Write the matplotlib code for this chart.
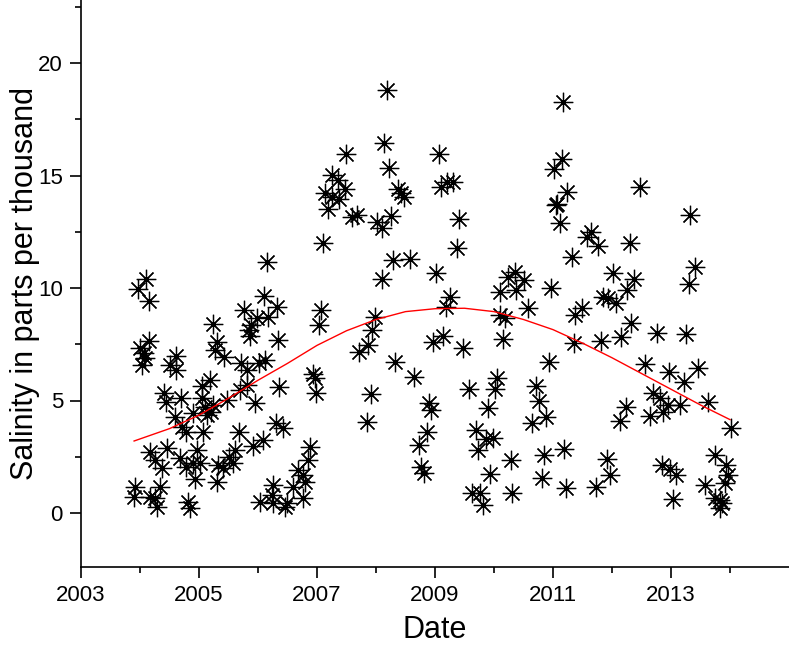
import matplotlib
matplotlib.use("Agg")
import matplotlib.pyplot as plt

plt.rcParams['font.family'] = ['Liberation Sans', 'DejaVu Sans']

# measured salinity (ppt) against decimal year
date = [
    2006.16, 2004.11, 2003.97, 2004.15, 2006.11, 2005.76, 2006.32, 2005.98, 2006.17, 2005.24,
    2005.88, 2005.86, 2005.84, 2004.16, 2004.00, 2004.06, 2004.03, 2004.08, 2005.30, 2005.27,
    2005.42, 2004.61, 2004.51, 2004.61, 2005.72, 2005.81, 2006.02, 2006.12, 2005.19, 2005.05,
    2004.40, 2004.44, 2004.69, 2005.05, 2005.10, 2005.47, 2005.69, 2005.81, 2005.95, 2006.35,
    2004.59, 2004.90, 2005.13, 2005.20, 2005.24, 2004.71, 2004.78, 2005.07, 2005.67, 2006.08,
    2005.92, 2006.30, 2004.17, 2004.25, 2004.37, 2004.46, 2004.68, 2004.78, 2004.90, 2005.02,
    2004.96, 2004.93, 2005.31, 2005.33, 2005.41, 2005.50, 2005.61, 2005.58, 2003.92, 2003.90,
    2004.17, 2004.25, 2004.28, 2004.34, 2004.82, 2004.85, 2006.03,
    # 2007 - 2009
    2008.18, 2008.14, 2007.49, 2009.06, 2008.22, 2007.26, 2007.36, 2007.47, 2007.14, 2007.25,
    2007.38, 2007.19, 2008.37, 2008.43, 2008.47, 2009.10, 2009.20, 2009.31, 2009.41, 2009.37,
    2007.59, 2007.67, 2008.02, 2008.10, 2008.25, 2007.11, 2008.29, 2008.58, 2008.11, 2009.02,
    2007.06, 2007.03, 2007.98, 2007.94, 2007.87, 2007.72, 2009.25, 2009.18, 2009.13, 2008.97,
    2009.47, 2006.34, 2008.32, 2008.64, 2006.93, 2006.97, 2006.99, 2007.92, 2008.90, 2008.93,
    2007.84, 2006.43, 2008.86, 2008.73, 2006.88, 2006.85, 2008.77, 2008.81, 2006.68, 2006.80,
    2006.60, 2006.26, 2006.77, 2006.76, 2006.23, 2006.26, 2006.46, 2006.49,
    # 2010 - 2012
    2011.17, 2011.15, 2011.01, 2012.47, 2011.24, 2011.05, 2011.07, 2011.12, 2011.57, 2011.65,
    2011.77, 2012.31, 2011.32, 2012.02, 2012.38, 2012.25, 2010.24, 2010.36, 2010.50, 2010.10,
    2010.38, 2010.96, 2011.85, 2011.94, 2012.07, 2010.58, 2011.49, 2011.37, 2010.10, 2010.19,
    2012.33,
    2010.16, 2011.35, 2011.81, 2012.16, 2010.94, 2010.05, 2010.02, 2009.58, 2010.72, 2010.76,
    2009.90, 2010.64, 2010.88, 2012.24, 2012.14, 2009.69, 2009.86, 2009.99, 2009.73, 2010.28,
    2010.85, 2011.19, 2011.92, 2011.96, 2009.93, 2010.81, 2009.62, 2009.76, 2009.82, 2010.30,
    2011.22, 2011.73,
    # 2013 - 2014
    2013.33, 2013.41, 2013.31, 2012.77, 2013.25, 2012.56, 2012.97, 2013.46, 2013.22, 2012.70,
    2012.81, 2012.95, 2013.15, 2012.86, 2012.64, 2013.63, 2014.01, 2013.75, 2012.84, 2012.99,
    2013.09, 2013.94, 2013.97, 2013.58, 2013.92, 2013.04, 2013.75, 2013.83, 2013.86, 2013.83,
]

salinity = [
    11.14, 10.39, 9.94, 9.44, 9.66, 9.02, 9.16, 8.65, 8.70, 8.39,
    8.36, 7.87, 8.13, 7.66, 7.32, 7.10, 6.58, 6.88, 7.61, 7.24,
    6.92, 6.98, 6.58, 6.36, 6.65, 6.36, 6.65, 6.80, 5.91, 5.64,
    5.35, 4.95, 5.10, 5.10, 4.73, 5.02, 5.47, 5.69, 4.88, 5.60,
    4.28, 4.43, 4.36, 4.50, 4.80, 3.84, 3.61, 3.61, 3.61, 3.24,
    2.98, 3.99, 2.73, 2.36, 1.99, 2.87, 2.43, 2.06, 2.21, 2.21,
    2.80, 1.50, 1.39, 2.13, 1.99, 2.50, 2.80, 2.21, 1.17, 0.72,
    0.72, 0.65, 0.28, 1.17, 0.50, 0.21, 0.50,
    18.80, 16.46, 15.96, 15.96, 15.35, 15.02, 14.80, 14.39, 14.21, 14.06,
    13.94, 13.50, 14.40, 14.24, 14.03, 14.47, 14.73, 14.73, 13.07, 11.76,
    13.14, 13.24, 12.95, 12.65, 13.20, 11.99, 11.24, 11.28, 10.39, 10.65,
    9.02, 8.36, 8.73, 8.13, 7.47, 7.17, 9.61, 9.17, 7.87, 7.61,
    7.32, 7.69, 6.73, 6.06, 6.18, 5.99, 5.32, 5.27, 4.87, 4.58,
    4.06, 3.76, 3.61, 3.02, 2.92, 2.36, 2.06, 1.76, 1.91, 1.39,
    1.17, 1.24, 1.69, 0.65, 0.80, 0.43, 0.28, 0.43,
    18.28, 15.72, 15.27, 14.50, 14.28, 13.69, 13.73, 12.87, 12.28, 12.50,
    11.87, 11.99, 11.39, 10.68, 10.39, 9.91, 10.50, 10.72, 10.36, 9.84,
    9.91, 9.99, 9.61, 9.54, 9.35, 9.10, 9.12, 8.80, 8.80, 8.65,
    8.43,
    7.72, 7.54, 7.64, 7.81, 6.73, 5.99, 5.50, 5.50, 5.64, 4.99,
    4.65, 4.01, 4.25, 4.73, 4.09, 3.69, 3.27, 3.32, 2.80, 2.36,
    2.58, 2.83, 2.39, 1.69, 1.73, 1.54, 0.87, 0.87, 0.36, 0.87,
    1.10, 1.14,
    13.24, 10.92, 10.18, 7.99, 7.96, 6.61, 6.28, 6.43, 5.84, 5.32,
    5.10, 4.80, 4.80, 4.50, 4.31, 4.95, 3.76, 2.58, 2.13, 1.94,
    1.69, 2.13, 1.69, 1.24, 1.32, 0.61, 0.65, 0.58, 0.43, 0.21,
]

# red fitted trend
fit_date = [2003.9, 2004.5, 2005.0, 2005.5, 2006.0, 2006.5, 2007.0, 2007.5, 2008.0, 2008.5,
            2009.0, 2009.5, 2010.0, 2010.5, 2011.0, 2011.5, 2012.0, 2012.5, 2013.0, 2013.5,
            2014.0]
fit_salinity = [3.2, 3.75, 4.35, 5.1, 5.9, 6.65, 7.45, 8.1, 8.6, 8.95,
                9.08, 9.1, 8.95, 8.6, 8.15, 7.55, 6.9, 6.2, 5.5, 4.8,
                4.15]

fig = plt.figure(figsize=(7.89, 6.49), dpi=100)
ax = fig.add_axes([81 / 789, 82 / 649, 708 / 789, 567 / 649])

ax.plot(date, salinity, ls='none', marker=(8, 2, 0), ms=14, mew=0.9,
        color='black', mec='black')
ax.plot(fit_date, fit_salinity, color='red', lw=1.0)

ax.set_xlim(2003, 2015)
ax.set_ylim(-2.4, 22.8)

ax.spines['top'].set_visible(False)
ax.spines['right'].set_visible(False)
for s in ('left', 'bottom'):
    ax.spines[s].set_linewidth(1.2)

ax.set_xticks(range(2003, 2015, 2))
ax.set_xticks(range(2004, 2016, 2), minor=True)
ax.set_yticks([0, 5, 10, 15, 20])
ax.set_yticks([2.5, 7.5, 12.5, 17.5, 22.5], minor=True)
ax.tick_params(which='major', direction='out', length=8, width=1.2, labelsize=16, pad=5)
ax.tick_params(which='minor', direction='out', length=4, width=1.2)

ax.set_xlabel('Date', fontsize=22)
ax.set_ylabel('Salinity in parts per thousand', fontsize=22)
ax.xaxis.set_label_coords(0.5, -0.084)
ax.yaxis.set_label_coords(-0.058, 0.5)

fig.savefig('out.png', dpi=100)
